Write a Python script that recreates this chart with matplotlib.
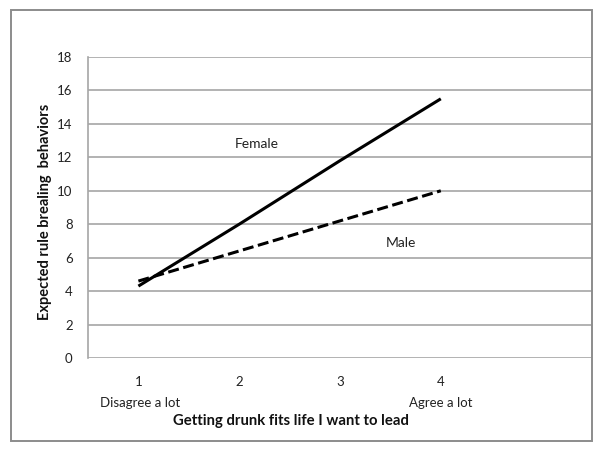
import matplotlib

matplotlib.use("Agg")

import matplotlib.pyplot as plt
from matplotlib.patches import Rectangle

plt.rcParams["font.family"] = ["Lato", "DejaVu Sans"]

niveis = [1, 2, 3, 4]
feminino = [4.3, 8.0, 11.8, 15.5]
masculino = [4.6, 6.4, 8.2, 10.0]
y_ticks = [0, 2, 4, 6, 8, 10, 12, 14, 16, 18]

W, H = 602, 449
fig = plt.figure(figsize=(W / 100, H / 100), dpi=100)

# moldura externa cinza
fig.patches.append(
    Rectangle((11 / W, 1 - 441 / H), 581 / W, 431 / H, transform=fig.transFigure,
              fill=False, edgecolor="#8c8c8c", linewidth=1.4)
)

ax = fig.add_axes([88 / W, 1 - 358 / H, 504 / W, 301 / H])
ax.set_xlim(0.5, 5.5)
ax.set_ylim(0, 18)

for y in y_ticks:
    ax.axhline(y, color="#a6a6a6", linewidth=1.2, zorder=1)

ax.plot(niveis, feminino, color="black", linewidth=2.2, solid_capstyle="butt", zorder=3)
ax.plot(niveis, masculino, color="black", linewidth=2.2, linestyle=(0, (3.6, 1.5)), zorder=3)

ax.spines["top"].set_visible(False)
ax.spines["right"].set_visible(False)
ax.spines["bottom"].set_visible(False)
ax.spines["left"].set_color("#a6a6a6")
ax.spines["left"].set_linewidth(1.2)

ax.set_yticks(y_ticks)
ax.set_xticks(niveis)
ax.tick_params(axis="both", length=0, labelsize=9.5, colors="#222222")
ax.tick_params(axis="y", pad=11)
ax.tick_params(axis="x", pad=13)

ax.text(2.17, 12.8, "Female", ha="center", va="center", fontsize=10, color="#222222")
ax.text(3.6, 6.85, "Male", ha="center", va="center", fontsize=10, color="#222222")

ax.text(1.02, -2.7, "Disagree a lot", ha="center", va="center", fontsize=9.5, color="#222222")
ax.text(4.0, -2.7, "Agree a lot", ha="center", va="center", fontsize=9.5, color="#222222")
ax.text(2.51, -3.75, "Getting drunk fits life I want to lead", ha="center", va="center",
        fontsize=10.7, fontweight="bold", color="#111111")

fig.text(45 / W, 1 - 212 / H, "Expected rule brealing  behaviors", rotation=90,
         ha="center", va="center", fontsize=10.5, fontweight="bold", color="#111111")

fig.savefig("out.png", dpi=100)
